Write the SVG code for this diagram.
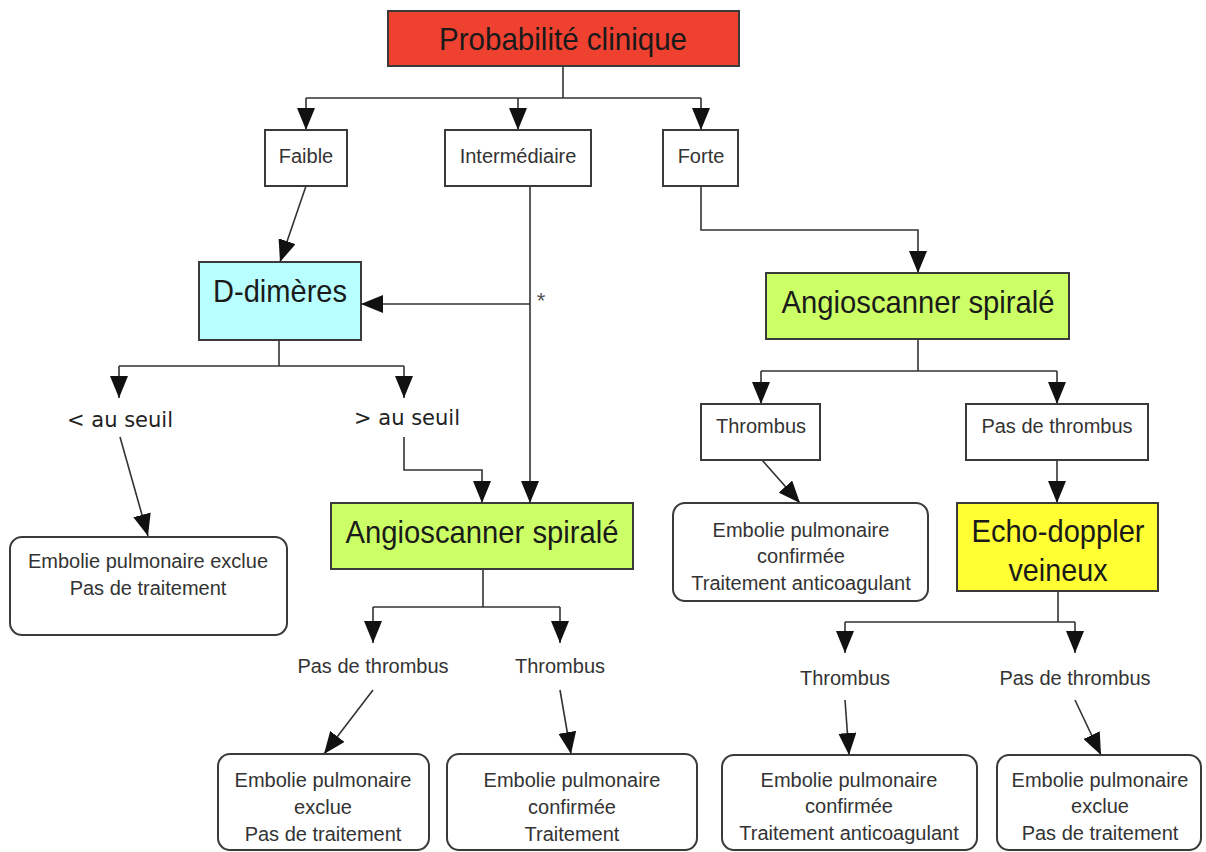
<svg xmlns="http://www.w3.org/2000/svg" width="1206" height="852" viewBox="0 0 1206 852">
<defs>
<marker id="ah" markerUnits="userSpaceOnUse" markerWidth="22" markerHeight="18" refX="22" refY="9" orient="auto">
<path d="M0,0 L22,9 L0,18 Z" fill="#111"/>
</marker>
<style>
.box{stroke:#3a3a3a;stroke-width:2;fill:#fff}
.big{font-family:"Liberation Sans",Arial,sans-serif;font-size:32px;fill:#1a1a1a;text-anchor:middle}
.sm{font-family:"Liberation Sans",Arial,sans-serif;font-size:20px;fill:#333;text-anchor:middle}
.dv{font-family:"DejaVu Sans",Verdana,sans-serif;font-size:21px;fill:#222;text-anchor:middle}
.c{stroke:#333;stroke-width:1.6;fill:none}
.a{stroke:#333;stroke-width:1.6;fill:none;marker-end:url(#ah)}
</style>
</defs>
<rect width="1206" height="852" fill="#fff"/>
<g id="connectors">
<path class="c" d="M563,66 V98 M306,98 H701"/>
<path class="a" d="M306,98 V130"/>
<path class="a" d="M518,98 V130"/>
<path class="a" d="M701,98 V130"/>
<path class="a" d="M306,186 L280,262"/>
<path class="a" d="M530,186 V503"/>
<path class="a" d="M530,304 H361"/>
<text x="541" y="308" class="sm" style="font-size:22px;fill:#555">*</text>
<path class="c" d="M279,340 V366 M119,366 H404"/>
<path class="a" d="M119,366 V398"/>
<path class="a" d="M404,366 V398"/>
<path class="a" d="M120,437 L148,536"/>
<path class="a" d="M404,437 V470 H482 V503"/>
<path class="c" d="M483,569 V607 M373,607 H560"/>
<path class="a" d="M373,607 V643"/>
<path class="a" d="M560,607 V643"/>
<path class="a" d="M373,690 L324,754"/>
<path class="a" d="M560,690 L571,754"/>
<path class="a" d="M701,186 V230 H918 V273"/>
<path class="c" d="M918,339 V371 M761,371 H1057"/>
<path class="a" d="M761,371 V404"/>
<path class="a" d="M1057,371 V404"/>
<path class="a" d="M762,460 L800,503"/>
<path class="a" d="M1057,460 V503"/>
<path class="c" d="M1058,591 V622 M845,622 H1075"/>
<path class="a" d="M845,622 V653"/>
<path class="a" d="M1075,622 V653"/>
<path class="a" d="M845,700 L849,755"/>
<path class="a" d="M1075,700 L1101,755"/>
</g>
<g id="n-proba">
<rect class="box" x="388" y="11" width="351" height="55" style="fill:#EF4130"/>
<text x="563" y="50" class="big" textLength="248" lengthAdjust="spacingAndGlyphs">Probabilité clinique</text>
</g>
<g id="n-faible">
<rect class="box" x="265" y="130" width="82" height="56"/>
<text x="306" y="163" class="sm">Faible</text>
</g>
<g id="n-inter">
<rect class="box" x="445" y="130" width="146" height="56"/>
<text x="518" y="163" class="sm">Intermédiaire</text>
</g>
<g id="n-forte">
<rect class="box" x="663" y="130" width="75" height="56"/>
<text x="701" y="163" class="sm">Forte</text>
</g>
<g id="n-ddimeres">
<rect class="box" x="199" y="262" width="162" height="78" style="fill:#B8FFFF"/>
<text x="280" y="302" class="big" textLength="134" lengthAdjust="spacingAndGlyphs">D-dimères</text>
</g>
<g id="n-inf">
<text x="120" y="427" class="dv">&lt; au seuil</text>
</g>
<g id="n-sup">
<text x="407" y="425" class="dv">&gt; au seuil</text>
</g>
<g id="n-exclue1">
<rect class="box" x="10" y="537" width="277" height="98" rx="12"/>
<text x="148" y="568" class="sm">Embolie pulmonaire exclue</text>
<text x="148" y="595" class="sm">Pas de traitement</text>
</g>
<g id="n-angio1">
<rect class="box" x="331" y="503" width="302" height="66" style="fill:#CCFF66"/>
<text x="482" y="543" class="big" textLength="273" lengthAdjust="spacingAndGlyphs">Angioscanner spiralé</text>
</g>
<g id="n-pasthr1">
<text x="373" y="673" class="sm">Pas de thrombus</text>
</g>
<g id="n-thr1">
<text x="560" y="673" class="sm">Thrombus</text>
</g>
<g id="n-exclue2">
<rect class="box" x="218" y="754" width="211" height="96" rx="12"/>
<text x="323" y="787" class="sm">Embolie pulmonaire</text>
<text x="323" y="814" class="sm">exclue</text>
<text x="323" y="841" class="sm">Pas de traitement</text>
</g>
<g id="n-conf1">
<rect class="box" x="447" y="754" width="250" height="96" rx="12"/>
<text x="572" y="787" class="sm">Embolie pulmonaire</text>
<text x="572" y="814" class="sm">confirmée</text>
<text x="572" y="841" class="sm">Traitement</text>
</g>
<g id="n-angio2">
<rect class="box" x="766" y="273" width="303" height="66" style="fill:#CCFF66"/>
<text x="918" y="313" class="big" textLength="273" lengthAdjust="spacingAndGlyphs">Angioscanner spiralé</text>
</g>
<g id="n-thr2">
<rect class="box" x="701" y="404" width="119" height="56"/>
<text x="761" y="433" class="sm">Thrombus</text>
</g>
<g id="n-pasthr2">
<rect class="box" x="966" y="404" width="182" height="56"/>
<text x="1057" y="433" class="sm">Pas de thrombus</text>
</g>
<g id="n-conf2">
<rect class="box" x="673" y="503" width="255" height="98" rx="12"/>
<text x="801" y="537" class="sm">Embolie pulmonaire</text>
<text x="801" y="563" class="sm">confirmée</text>
<text x="801" y="590" class="sm">Traitement anticoagulant</text>
</g>
<g id="n-echo">
<rect class="box" x="957" y="503" width="201" height="88" style="fill:#FFFF33"/>
<text x="1058" y="542" class="big" textLength="173" lengthAdjust="spacingAndGlyphs">Echo-doppler</text>
<text x="1058" y="581" class="big" textLength="99" lengthAdjust="spacingAndGlyphs">veineux</text>
</g>
<g id="n-thr3">
<text x="845" y="685" class="sm">Thrombus</text>
</g>
<g id="n-pasthr3">
<text x="1075" y="685" class="sm">Pas de thrombus</text>
</g>
<g id="n-conf3">
<rect class="box" x="722" y="755" width="255" height="95" rx="12"/>
<text x="849" y="787" class="sm">Embolie pulmonaire</text>
<text x="849" y="813" class="sm">confirmée</text>
<text x="849" y="840" class="sm">Traitement anticoagulant</text>
</g>
<g id="n-exclue3">
<rect class="box" x="997" y="755" width="204" height="95" rx="12"/>
<text x="1100" y="787" class="sm">Embolie pulmonaire</text>
<text x="1100" y="813" class="sm">exclue</text>
<text x="1100" y="840" class="sm">Pas de traitement</text>
</g>
</svg>
